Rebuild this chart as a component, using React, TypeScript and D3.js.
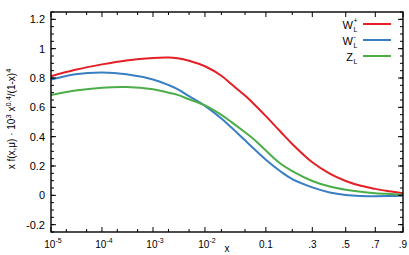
import React from 'react';
import * as d3 from 'd3';

const xValues = [1e-5, 3e-5, 1e-4, 3e-4, 1e-3, 2e-3, 3e-3, 5e-3, 1e-2, 0.02, 0.03, 0.05, 0.07, 0.1, 0.15, 0.2, 0.3, 0.4, 0.5, 0.6, 0.7, 0.8, 0.9];
const wPlus = [0.812, 0.856, 0.893, 0.92, 0.937, 0.94, 0.935, 0.918, 0.88, 0.815, 0.757, 0.68, 0.618, 0.54, 0.435, 0.35, 0.225, 0.148, 0.098, 0.065, 0.044, 0.028, 0.014];
const wMinus = [0.79, 0.826, 0.837, 0.826, 0.79, 0.752, 0.724, 0.676, 0.61, 0.524, 0.462, 0.375, 0.313, 0.243, 0.164, 0.11, 0.054, 0.02, 0.003, -0.004, -0.006, -0.005, -0.003];
const zL = [0.684, 0.714, 0.734, 0.739, 0.723, 0.70, 0.685, 0.655, 0.613, 0.548, 0.499, 0.43, 0.378, 0.305, 0.217, 0.165, 0.098, 0.06, 0.038, 0.024, 0.015, 0.009, 0.004];

const xMajor = [1e-5, 1e-4, 1e-3, 1e-2, 0.1, 0.3, 0.5, 0.7, 0.9];
const xMajorLabels = [['10', '-5'], ['10', '-4'], ['10', '-3'], ['10', '-2'], ['0.1', ''], ['.3', ''], ['.5', ''], ['.7', ''], ['.9', '']];
const xMinor = [2e-5, 5e-5, 2e-4, 5e-4, 2e-3, 5e-3, 0.02, 0.05, 0.2];
const yMajor = [-0.2, 0, 0.2, 0.4, 0.6, 0.8, 1, 1.2];

const series = [
  { name: 'W', sup: '+', sub: 'L', values: wPlus, color: '#e41f26' },
  { name: 'W', sup: '-', sub: 'L', values: wMinus, color: '#3a7fc3' },
  { name: 'Z', sup: '', sub: 'L', values: zL, color: '#4bae48' },
];

const W = 409;
const H = 255;
const left = 51, right = 403, top = 12, bottom = 232;
const font = '"Liberation Sans", Arial, sans-serif';

// axis transform: ln(x) + 5x
const tx = (x: number) => Math.log(x) + 5 * x;

export default function App() {
  const x = d3.scaleLinear().domain([tx(1e-5), tx(0.9)]).range([left, right]);
  const y = d3.scaleLinear().domain([-0.25, 1.25]).range([bottom, top]);
  const X = (v: number) => x(tx(v));

  const line = d3.line<[number, number]>()
    .x(d => X(d[0]))
    .y(d => y(d[1]))
    .curve(d3.curveCatmullRom.alpha(0.5));

  const yMinor = d3.range(-0.25, 1.2501, 0.05).map(v => +v.toFixed(2));

  return (
    <svg width={W} height={H} style={{ position: 'absolute', left: 0, top: 0, background: '#fff' }} fontFamily={font}>
      <defs>
        <clipPath id="plot">
          <rect x={left} y={top} width={right - left} height={bottom - top} />
        </clipPath>
      </defs>

      {/* curves */}
      <g clipPath="url(#plot)">
        {series.map((s, i) => (
          <path key={i} d={line(xValues.map((v, j) => [v, s.values[j]]) as [number, number][]) || ''}
            fill="none" stroke={s.color} strokeWidth={2} />
        ))}
      </g>

      {/* frame */}
      <rect x={left} y={top} width={right - left} height={bottom - top} fill="none" stroke="#000" strokeWidth={1.4} />

      {/* x ticks, bottom and top */}
      {xMajor.map((v, i) => (
        <g key={'xm' + i}>
          <line x1={X(v)} x2={X(v)} y1={bottom} y2={bottom - 5} stroke="#000" />
          <line x1={X(v)} x2={X(v)} y1={top} y2={top + 5} stroke="#000" />
        </g>
      ))}
      {xMinor.map((v, i) => (
        <g key={'xn' + i}>
          <line x1={X(v)} x2={X(v)} y1={bottom} y2={bottom - 3} stroke="#000" />
          <line x1={X(v)} x2={X(v)} y1={top} y2={top + 3} stroke="#000" />
        </g>
      ))}
      {xMajor.map((v, i) => {
        const [base, exp] = xMajorLabels[i];
        return (
          <text key={'xl' + i} x={X(v) + (exp ? 2 : 0)} y={248} fontSize={10} textAnchor="middle" fill="#000">
            {base}
            {exp && <tspan fontSize={7} dy={-5}>{exp}</tspan>}
          </text>
        );
      })}
      <text x={(left + right) / 2} y={252} fontSize={10} textAnchor="middle">x</text>

      {/* y ticks, left and right */}
      {yMinor.map((v, i) => (
        <g key={'yn' + i}>
          <line x1={left} x2={left + 3} y1={y(v)} y2={y(v)} stroke="#000" />
          <line x1={right} x2={right - 3} y1={y(v)} y2={y(v)} stroke="#000" />
        </g>
      ))}
      {yMajor.map((v, i) => (
        <g key={'ym' + i}>
          <line x1={left} x2={left + 5} y1={y(v)} y2={y(v)} stroke="#000" />
          <line x1={right} x2={right - 5} y1={y(v)} y2={y(v)} stroke="#000" />
          <text x={left - 6} y={y(v) + 4} fontSize={11} textAnchor="end">{String(v)}</text>
        </g>
      ))}

      {/* y axis title */}
      <text transform={`translate(15,${(top + bottom) / 2 - 3}) rotate(-90)`} fontSize={10} textAnchor="middle">
        x f(x,μ) · 10<tspan fontSize={7.5} dy={-4}>3</tspan>
        <tspan dy={4}> x</tspan><tspan fontSize={7.5} dy={-4}>0.4</tspan>
        <tspan dy={4}>/(1-x)</tspan><tspan fontSize={7.5} dy={-4}>4</tspan>
      </text>

      {/* legend */}
      {series.map((s, i) => {
        const ly = 24 + i * 16;
        return (
          <g key={'lg' + i}>
            <text x={353} y={ly + 4.5} fontSize={11} textAnchor="end">{s.name}</text>
            {s.sup && <text x={353.5} y={ly - 1} fontSize={7}>{s.sup}</text>}
            <text x={353.5} y={ly + 8} fontSize={7}>{s.sub}</text>
            <line x1={363} x2={391} y1={ly} y2={ly} stroke={s.color} strokeWidth={2} />
          </g>
        );
      })}
    </svg>
  );
}
